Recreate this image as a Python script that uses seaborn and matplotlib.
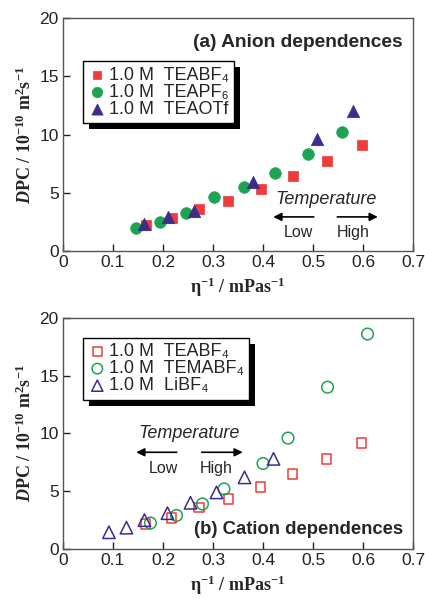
import matplotlib
matplotlib.use("Agg")
import matplotlib.pyplot as plt
from matplotlib.patches import Rectangle
from matplotlib.transforms import IdentityTransform
import seaborn as sns
import pandas as pd

sns.set_style("white")
plt.rcParams['font.family'] = ['Liberation Sans', 'DejaVu Sans']
plt.rcParams['mathtext.fontset'] = 'custom'
plt.rcParams['mathtext.rm'] = 'Liberation Serif:bold'
plt.rcParams['mathtext.it'] = 'Liberation Serif:bold:italic'
plt.rcParams['mathtext.bf'] = 'Liberation Serif:bold'

# ---- panel (a) data ----
a_teabf4_x = [0.167, 0.219, 0.273, 0.331, 0.395, 0.459, 0.527, 0.597]
a_teabf4_y = [2.2, 2.8, 3.6, 4.3, 5.3, 6.4, 7.7, 9.1]
a_teapf6_x = [0.147, 0.195, 0.247, 0.303, 0.361, 0.423, 0.490, 0.558]
a_teapf6_y = [2.0, 2.5, 3.3, 4.6, 5.5, 6.7, 8.35, 10.2]
a_teaotf_x = [0.162, 0.210, 0.263, 0.379, 0.507, 0.579]
a_teaotf_y = [2.3, 2.9, 3.4, 5.9, 9.6, 12.0]

# ---- panel (b) data ----
b_teabf4_x = [0.165, 0.217, 0.272, 0.331, 0.395, 0.459, 0.527, 0.597]
b_teabf4_y = [2.2, 2.7, 3.6, 4.3, 5.4, 6.5, 7.8, 9.2]
b_temabf4_x = [0.175, 0.227, 0.279, 0.322, 0.400, 0.450, 0.529, 0.609]
b_temabf4_y = [2.25, 2.9, 3.9, 5.2, 7.4, 9.6, 14.0, 18.6]
b_libf4_x = [0.092, 0.127, 0.163, 0.209, 0.255, 0.307, 0.363, 0.421]
b_libf4_y = [1.45, 1.85, 2.5, 3.1, 4.0, 4.9, 6.2, 7.8]

labels_a = ["1.0 M  TEABF₄", "1.0 M  TEAPF₆", "1.0 M  TEAOTf"]
labels_b = ["1.0 M  TEABF₄", "1.0 M  TEMABF₄", "1.0 M  LiBF₄"]
xticks = [0, 0.1, 0.2, 0.3, 0.4, 0.5, 0.6, 0.7]
xticklabels = ["0", "0.1", "0.2", "0.3", "0.4", "0.5", "0.6", "0.7"]
yticks = [0, 5, 10, 15, 20]

RED = "#ee3b3b"
GREEN = "#1ea352"
PURPLE = "#3d2c8c"
colors = [RED, GREEN, PURPLE]
markers = ["s", "o", "^"]
sizes = [50, 70, 80]

fig = plt.figure(figsize=(4.25, 6.02), dpi=100)
axA = fig.add_axes([0.148, 0.583, 0.824, 0.387])
axB = fig.add_axes([0.148, 0.088, 0.824, 0.384])

seriesA = [(a_teabf4_x, a_teabf4_y), (a_teapf6_x, a_teapf6_y), (a_teaotf_x, a_teaotf_y)]
seriesB = [(b_teabf4_x, b_teabf4_y), (b_temabf4_x, b_temabf4_y), (b_libf4_x, b_libf4_y)]

for (x, y), lab, c, m, s in zip(seriesA, labels_a, colors, markers, sizes):
    df = pd.DataFrame({"x": x, "y": y})
    sns.scatterplot(data=df, x="x", y="y", ax=axA, marker=m, s=s, color=c,
                    edgecolor=c, linewidth=0.5, label=lab, zorder=3)

for (x, y), lab, c, m, s in zip(seriesB, labels_b, colors, markers, sizes):
    df = pd.DataFrame({"x": x, "y": y})
    sns.scatterplot(data=df, x="x", y="y", ax=axB, marker=m, s=s, facecolor="none",
                    edgecolor=c, linewidth=1.1, label=lab, zorder=3)

for ax in (axA, axB):
    ax.set_xlim(0, 0.7)
    ax.set_ylim(0, 20)
    ax.set_xticks(xticks)
    ax.set_xticklabels(xticklabels)
    ax.set_yticks(yticks)
    ax.tick_params(direction="in", length=5, width=1, labelsize=12.5, pad=3,
                   colors="#222222", bottom=True, left=True)
    for sp in ax.spines.values():
        sp.set_color("#555555")
        sp.set_linewidth(1.0)
    ax.set_xlabel("η$^{-1}$ / mPas$^{-1}$", fontsize=13, family="Liberation Serif",
                  fontweight="bold", labelpad=4)
    ax.set_ylabel("$\\mathit{D}$PC / 10$^{-10}$ m$^2$s$^{-1}$", fontsize=13,
                  family="Liberation Serif", fontweight="bold", labelpad=3)
    ax.grid(False)

def make_legend(ax, anchor):
    leg = ax.legend(loc="upper left", bbox_to_anchor=anchor, fontsize=13,
                    frameon=True, fancybox=False,
                    labelspacing=0.0, handletextpad=0.15, handlelength=1.0,
                    borderpad=0.3, borderaxespad=0, markerscale=0.9)
    leg.get_frame().set_edgecolor("black")
    leg.get_frame().set_linewidth(1.0)
    leg.get_frame().set_alpha(1)
    return leg

legA = make_legend(axA, (0.057, 0.815))
legB = make_legend(axB, (0.057, 0.913))

# annotations panel (a)
axA.text(0.68, 17.9, "(a) Anion dependences", ha="right", va="center",
         fontsize=13.8, fontweight="bold")
axA.text(0.527, 4.45, "Temperature", ha="center", va="center", fontsize=13, style="italic")
axA.annotate("", xy=(0.415, 2.93), xytext=(0.507, 2.93),
             arrowprops=dict(arrowstyle="-|>", color="black", lw=1.2, mutation_scale=12))
axA.annotate("", xy=(0.635, 2.93), xytext=(0.543, 2.93),
             arrowprops=dict(arrowstyle="-|>", color="black", lw=1.2, mutation_scale=12))
axA.text(0.47, 1.58, "Low", ha="center", va="center", fontsize=11.5)
axA.text(0.58, 1.58, "High", ha="center", va="center", fontsize=11.5)

# annotations panel (b)
axB.text(0.68, 1.73, "(b) Cation dependences", ha="right", va="center",
         fontsize=13.3, fontweight="bold")
axB.text(0.252, 10.0, "Temperature", ha="center", va="center", fontsize=13, style="italic")
axB.annotate("", xy=(0.141, 8.37), xytext=(0.233, 8.37),
             arrowprops=dict(arrowstyle="-|>", color="black", lw=1.2, mutation_scale=12))
axB.annotate("", xy=(0.365, 8.37), xytext=(0.272, 8.37),
             arrowprops=dict(arrowstyle="-|>", color="black", lw=1.2, mutation_scale=12))
axB.text(0.2, 7.0, "Low", ha="center", va="center", fontsize=11.5)
axB.text(0.307, 7.0, "High", ha="center", va="center", fontsize=11.5)

# hard black drop shadows behind the legends
fig.canvas.draw()
for ax, leg in ((axA, legA), (axB, legB)):
    bb = leg.get_frame().get_window_extent(fig.canvas.get_renderer())
    sh = Rectangle((bb.x0 + 6, bb.y0 - 6), bb.width, bb.height, transform=IdentityTransform(),
                   facecolor="black", edgecolor="none", zorder=4.9, clip_on=False)
    ax.add_patch(sh)

fig.savefig("out.png", dpi=100)
